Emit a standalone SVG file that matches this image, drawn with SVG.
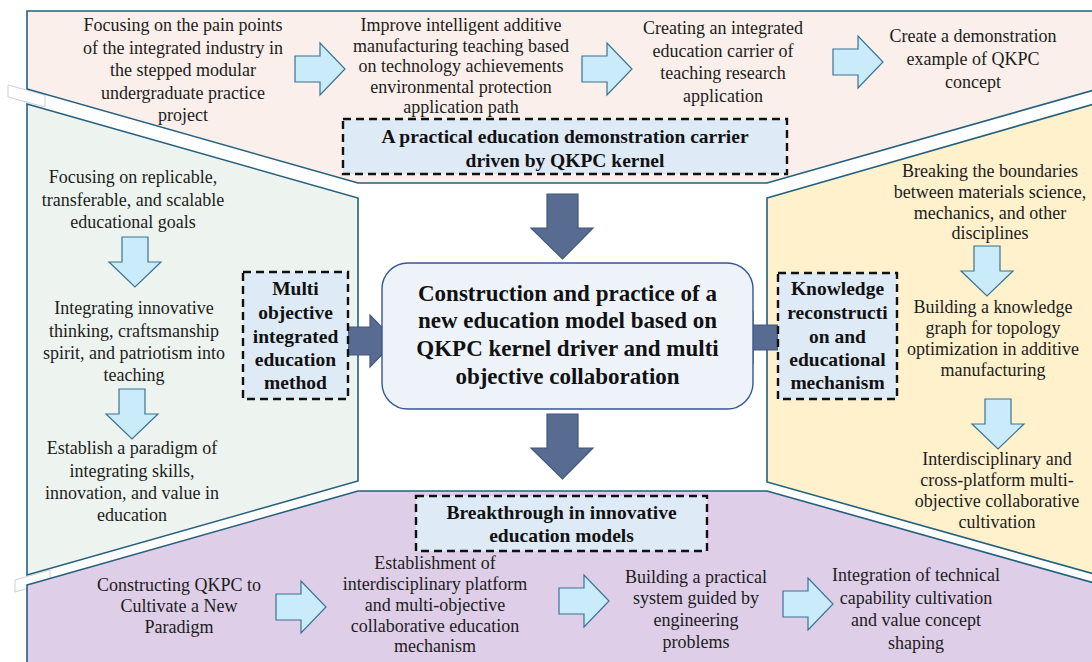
<svg xmlns="http://www.w3.org/2000/svg" width="1092" height="662" viewBox="0 0 1092 662">
  <defs>
    <style>
      .panel { stroke: #245F7E; stroke-width: 1.6; stroke-linejoin: miter; }
      .txt { font-family: "Liberation Serif", "Times New Roman", serif; font-size: 18px; fill: #1c1c1c; text-anchor: middle; }
      .bold { font-family: "Liberation Serif", "Times New Roman", serif; font-weight: bold; font-size: 19.5px; fill: #111; text-anchor: middle; }
      .title { font-family: "Liberation Serif", "Times New Roman", serif; font-weight: bold; font-size: 23px; fill: #111; text-anchor: middle; }
      .dash { fill: #DEEAF6; stroke: #111; stroke-width: 2.4; stroke-dasharray: 8 5; }
      .big { fill: #586B91; stroke: #40587C; stroke-width: 1.2; }
      .small { fill: #C9EBFA; stroke: #3B7393; stroke-width: 1.2; }
    </style>
    <!-- light step arrow pointing right, origin at tail centre -->
    <path id="step" d="M0,-13 L25,-13 L25,-26 L50,0 L25,26 L25,13 L0,13 Z"/>
  </defs>

  <rect width="1092" height="662" fill="#ffffff"/>

  <!-- leftover strips at the left margin -->
  <polygon points="8,85 45,95 45,107 8,97" fill="#ffffff" stroke="#d0d0d0" stroke-width="1"/>
  <polygon points="15,580 50,570 50,582 15,592" fill="#ffffff" stroke="#d0d0d0" stroke-width="1"/>

  <!-- background panels -->
  <g id="panel-top">
    <polygon class="panel" fill="#FAEFEA" points="27,11 1094,11 1094,90 767,183 358,183 27,89"/>
  </g>
  <g id="panel-left">
    <polygon class="panel" fill="#EDF4EF" points="27,104 358,198 358,481 27,575"/>
  </g>
  <g id="panel-right">
    <polygon class="panel" fill="#FFF1CC" points="767,198 1094,104 1094,574 767,482"/>
  </g>
  <g id="panel-bottom">
    <polygon class="panel" fill="#DECEE8" points="27,585 358,491 767,491 1094,583 1094,664 27,664"/>
  </g>

  <!-- connectors -->
  <g id="connectors">
    <polygon class="big" points="547,194 578,194 578,228 593,228 562.5,259 531,228 547,228"/>
    <polygon class="big" points="547,414 578,414 578,448 593,448 562.5,479 531,448 547,448"/>
    <polygon class="big" points="348,327 370,327 370,315 395,341 370,367 370,355 348,355"/>
    <polygon class="big" points="778,325 753,325 753,312 728,337.5 753,363 753,350 778,350"/>

    <use href="#step" class="small" transform="translate(295,69)"/>
    <use href="#step" class="small" transform="translate(582,69)"/>
    <use href="#step" class="small" transform="translate(833,62)"/>

    <use href="#step" class="small" transform="translate(135,237) rotate(90)"/>
    <use href="#step" class="small" transform="translate(132,389) rotate(90)"/>

    <use href="#step" class="small" transform="translate(987,246) rotate(90)"/>
    <use href="#step" class="small" transform="translate(998,399) rotate(90)"/>

    <use href="#step" class="small" transform="translate(276,607)"/>
    <use href="#step" class="small" transform="translate(559,601)"/>
    <use href="#step" class="small" transform="translate(783,604)"/>
  </g>

  <!-- top row -->
  <g id="top-1">
    <text class="txt" x="183" y="31">Focusing on the pain points</text>
    <text class="txt" x="183" y="53.5">of the integrated industry in</text>
    <text class="txt" x="183" y="76">the stepped modular</text>
    <text class="txt" x="183" y="98.5">undergraduate practice</text>
    <text class="txt" x="183" y="121">project</text>
  </g>
  <g id="top-2">
    <text class="txt" x="461" y="31">Improve intelligent additive</text>
    <text class="txt" x="461" y="51.5">manufacturing teaching based</text>
    <text class="txt" x="461" y="72">on technology achievements</text>
    <text class="txt" x="461" y="92.5">environmental protection</text>
    <text class="txt" x="461" y="113">application path</text>
  </g>
  <g id="top-3">
    <text class="txt" x="723" y="34">Creating an integrated</text>
    <text class="txt" x="723" y="56.5">education carrier of</text>
    <text class="txt" x="723" y="79">teaching research</text>
    <text class="txt" x="723" y="101.5">application</text>
  </g>
  <g id="top-4">
    <text class="txt" x="973" y="42">Create a demonstration</text>
    <text class="txt" x="973" y="65">example of QKPC</text>
    <text class="txt" x="973" y="88">concept</text>
  </g>
  <g id="carrier-box">
    <rect class="dash" x="343" y="119" width="444" height="55"/>
    <text class="bold" x="565" y="142.5">A practical education demonstration carrier</text>
    <text class="bold" x="565" y="166.5">driven by QKPC kernel</text>
  </g>

  <!-- left column -->
  <g id="left-1">
    <text class="txt" x="133" y="183">Focusing on replicable,</text>
    <text class="txt" x="133" y="206">transferable, and scalable</text>
    <text class="txt" x="133" y="228">educational goals</text>
  </g>
  <g id="left-2">
    <text class="txt" x="134" y="314">Integrating innovative</text>
    <text class="txt" x="134" y="337">thinking, craftsmanship</text>
    <text class="txt" x="134" y="359">spirit, and patriotism into</text>
    <text class="txt" x="134" y="381">teaching</text>
  </g>
  <g id="left-3">
    <text class="txt" x="132" y="454">Establish a paradigm of</text>
    <text class="txt" x="132" y="477">integrating skills,</text>
    <text class="txt" x="132" y="499">innovation, and value in</text>
    <text class="txt" x="132" y="521">education</text>
  </g>
  <g id="method-box">
    <rect class="dash" x="243" y="272" width="105" height="127"/>
    <text class="bold" x="295.5" y="294.5">Multi</text>
    <text class="bold" x="295.5" y="318.5">objective</text>
    <text class="bold" x="295.5" y="342.5">integrated</text>
    <text class="bold" x="295.5" y="365.5">education</text>
    <text class="bold" x="295.5" y="388.5">method</text>
  </g>

  <!-- right column -->
  <g id="right-1">
    <text class="txt" x="990" y="177">Breaking the boundaries</text>
    <text class="txt" x="990" y="198">between materials science,</text>
    <text class="txt" x="990" y="219">mechanics, and other</text>
    <text class="txt" x="990" y="239">disciplines</text>
  </g>
  <g id="right-2">
    <text class="txt" x="993" y="313">Building a knowledge</text>
    <text class="txt" x="993" y="334">graph for topology</text>
    <text class="txt" x="993" y="355">optimization in additive</text>
    <text class="txt" x="993" y="376">manufacturing</text>
  </g>
  <g id="right-3">
    <text class="txt" x="997" y="465">Interdisciplinary and</text>
    <text class="txt" x="997" y="486">cross-platform multi-</text>
    <text class="txt" x="997" y="507">objective collaborative</text>
    <text class="txt" x="997" y="528">cultivation</text>
  </g>
  <g id="mechanism-box">
    <rect class="dash" x="778" y="273" width="119" height="126"/>
    <text class="bold" x="837.5" y="294.5">Knowledge</text>
    <text class="bold" x="837.5" y="318.5">reconstructi</text>
    <text class="bold" x="837.5" y="342.5">on and</text>
    <text class="bold" x="837.5" y="365.5">educational</text>
    <text class="bold" x="837.5" y="388.5">mechanism</text>
  </g>

  <!-- centre -->
  <g id="core">
    <rect x="382" y="263" width="371" height="146" rx="26" ry="26" fill="#EEF3FA" stroke="#34569A" stroke-width="1.4"/>
    <text class="title" x="567.5" y="300.5">Construction and practice of a</text>
    <text class="title" x="567.5" y="327.5">new education model based on</text>
    <text class="title" x="567.5" y="355.5">QKPC kernel driver and multi</text>
    <text class="title" x="567.5" y="383.5">objective collaboration</text>
  </g>

  <!-- bottom row -->
  <g id="breakthrough-box">
    <rect class="dash" x="416" y="496" width="291" height="55"/>
    <text class="bold" x="561.5" y="518.5">Breakthrough in innovative</text>
    <text class="bold" x="561.5" y="541.5">education models</text>
  </g>
  <g id="bottom-1">
    <text class="txt" x="179" y="591">Constructing QKPC to</text>
    <text class="txt" x="179" y="612">Cultivate a New</text>
    <text class="txt" x="179" y="633">Paradigm</text>
  </g>
  <g id="bottom-2">
    <text class="txt" x="435" y="569">Establishment of</text>
    <text class="txt" x="435" y="590">interdisciplinary platform</text>
    <text class="txt" x="435" y="611">and multi-objective</text>
    <text class="txt" x="435" y="632">collaborative education</text>
    <text class="txt" x="435" y="652">mechanism</text>
  </g>
  <g id="bottom-3">
    <text class="txt" x="696" y="583">Building a practical</text>
    <text class="txt" x="696" y="604">system guided by</text>
    <text class="txt" x="696" y="626">engineering</text>
    <text class="txt" x="696" y="648">problems</text>
  </g>
  <g id="bottom-4">
    <text class="txt" x="916" y="581">Integration of technical</text>
    <text class="txt" x="916" y="604">capability cultivation</text>
    <text class="txt" x="916" y="626">and value concept</text>
    <text class="txt" x="916" y="649">shaping</text>
  </g>
</svg>
